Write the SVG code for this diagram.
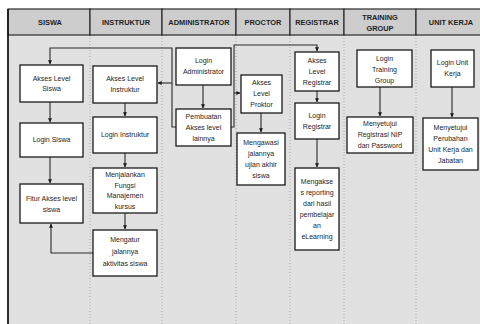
<svg xmlns="http://www.w3.org/2000/svg" width="480" height="324" viewBox="0 0 480 324">
  <style>
    .hdr { fill: #cdcdcd; stroke: #2a2a2a; stroke-width: 1.2; }
    .htxt { font-family: "Liberation Sans", Arial, sans-serif; font-size: 7.4px; font-weight: bold; fill: #1e1e1e; text-anchor: middle; }
    .lane { stroke: #9a9a9a; stroke-width: 0.8; stroke-dasharray: 1 2; fill: none; }
    .box { fill: #ffffff; stroke: #1a1a1a; stroke-width: 1.3; }
    .txt { font-family: "Liberation Sans", Arial, sans-serif; font-size: 7px; fill: #1e1e1e; text-anchor: middle; }
    .conn { fill: none; stroke: #2a2a2a; stroke-width: 1.1; }
  </style>
  <defs>
    <marker id="arrow" viewBox="0 0 6 6" refX="5.5" refY="3" markerWidth="4" markerHeight="4" orient="auto" markerUnits="userSpaceOnUse">
      <path d="M0,0 L6,3 L0,6 Z" fill="#1a1a1a"/>
    </marker>
  </defs>

  <!-- page and swimlane body -->
  <rect x="0" y="0" width="480" height="324" fill="#ffffff"/>
  <rect x="8" y="9" width="474" height="318" fill="#e1e1e1"/>

  <!-- lane separators in the body -->
  <g id="lanes">
    <line class="lane" x1="90" y1="35" x2="90" y2="324"/>
    <line class="lane" x1="162" y1="35" x2="162" y2="324"/>
    <line class="lane" x1="236" y1="35" x2="236" y2="324"/>
    <line class="lane" x1="290" y1="35" x2="290" y2="324"/>
    <line class="lane" x1="344" y1="35" x2="344" y2="324"/>
    <line class="lane" x1="416" y1="35" x2="416" y2="324"/>
  </g>

  <!-- lane headers -->
  <g id="header">
    <rect class="hdr" x="8" y="9" width="82" height="26"/>
    <rect class="hdr" x="90" y="9" width="72" height="26"/>
    <rect class="hdr" x="162" y="9" width="74" height="26"/>
    <rect class="hdr" x="236" y="9" width="54" height="26"/>
    <rect class="hdr" x="290" y="9" width="54" height="26"/>
    <rect class="hdr" x="344" y="9" width="72" height="26"/>
    <rect class="hdr" x="416" y="9" width="70" height="26"/>
    <text class="htxt" x="50" y="25">SISWA</text>
    <text class="htxt" x="126" y="25">INSTRUKTUR</text>
    <text class="htxt" x="199" y="25">ADMINISTRATOR</text>
    <text class="htxt" x="263" y="25">PROCTOR</text>
    <text class="htxt" x="317" y="25">REGISTRAR</text>
    <text class="htxt" x="380" y="19.5">TRAINING</text>
    <text class="htxt" x="380" y="30.5">GROUP</text>
    <text class="htxt" x="451" y="25">UNIT KERJA</text>
  </g>

  <!-- outer left border -->
  <line x1="8" y1="9" x2="8" y2="324" stroke="#1a1a1a" stroke-width="1.8"/>

  <!-- connectors -->
  <g id="connectors">
    <path class="conn" d="M176,127 H172 V48 H50 V64" marker-end="url(#arrow)"/>
    <path class="conn" d="M172,83 H158" marker-end="url(#arrow)"/>
    <path class="conn" d="M231,127 H234 V45 H317 V51" marker-end="url(#arrow)"/>
    <path class="conn" d="M234,93 H240" marker-end="url(#arrow)"/>
    <path class="conn" d="M50,102 V122" marker-end="url(#arrow)"/>
    <path class="conn" d="M50,157 V183" marker-end="url(#arrow)"/>
    <path class="conn" d="M125,103 V116" marker-end="url(#arrow)"/>
    <path class="conn" d="M125,153 V167" marker-end="url(#arrow)"/>
    <path class="conn" d="M125,213 V229" marker-end="url(#arrow)"/>
    <path class="conn" d="M93,253 H51 V224" marker-end="url(#arrow)"/>
    <path class="conn" d="M203,85 V108" marker-end="url(#arrow)"/>
    <path class="conn" d="M261,113 V132" marker-end="url(#arrow)"/>
    <path class="conn" d="M317,91 V102" marker-end="url(#arrow)"/>
    <path class="conn" d="M317,139 V167" marker-end="url(#arrow)"/>
    <path class="conn" d="M380,87 V116" marker-end="url(#arrow)"/>
    <path class="conn" d="M452,87 V117" marker-end="url(#arrow)"/>
  </g>

  <!-- SISWA lane -->
  <g id="akses-level-siswa">
    <rect class="box" x="20" y="65" width="63" height="37"/>
    <text class="txt" x="51.5" y="80.5">Akses Level</text>
    <text class="txt" x="51.5" y="91">Siswa</text>
  </g>
  <g id="login-siswa">
    <rect class="box" x="20" y="123" width="63" height="34"/>
    <text class="txt" x="51.5" y="142.4">Login Siswa</text>
  </g>
  <g id="fitur-akses-siswa">
    <rect class="box" x="20" y="184" width="63" height="39"/>
    <text class="txt" x="51.5" y="200.5">Fitur Akses level</text>
    <text class="txt" x="51.5" y="211.5">siswa</text>
  </g>

  <!-- INSTRUKTUR lane -->
  <g id="akses-level-instruktur">
    <rect class="box" x="93" y="66" width="64" height="37"/>
    <text class="txt" x="125" y="81.4">Akses Level</text>
    <text class="txt" x="125" y="92.4">Instruktur</text>
  </g>
  <g id="login-instruktur">
    <rect class="box" x="93" y="117" width="64" height="36"/>
    <text class="txt" x="125" y="137.4">Login Instruktur</text>
  </g>
  <g id="fungsi-manajemen-kursus">
    <rect class="box" x="93" y="168" width="64" height="45"/>
    <text class="txt" x="125" y="177.2">Menjalankan</text>
    <text class="txt" x="125" y="187.7">Fungsi</text>
    <text class="txt" x="125" y="198.2">Manajemen</text>
    <text class="txt" x="125" y="208.7">kursus</text>
  </g>
  <g id="mengatur-aktivitas">
    <rect class="box" x="93" y="230" width="64" height="46"/>
    <text class="txt" x="125" y="242.4">Mengatur</text>
    <text class="txt" x="125" y="254.4">jalannya</text>
    <text class="txt" x="125" y="266.4">aktivitas siswa</text>
  </g>

  <!-- ADMINISTRATOR lane -->
  <g id="login-administrator">
    <rect class="box" x="176" y="48" width="55" height="37"/>
    <text class="txt" x="203.5" y="63.4">Login</text>
    <text class="txt" x="203.5" y="74.4">Administrator</text>
  </g>
  <g id="pembuatan-akses">
    <rect class="box" x="176" y="109" width="55" height="37"/>
    <text class="txt" x="203.5" y="119">Pembuatan</text>
    <text class="txt" x="203.5" y="130">Akses level</text>
    <text class="txt" x="203.5" y="141">lainnya</text>
  </g>

  <!-- PROCTOR lane -->
  <g id="akses-level-proktor">
    <rect class="box" x="241" y="75" width="41" height="38"/>
    <text class="txt" x="261.5" y="85.4">Akses</text>
    <text class="txt" x="261.5" y="96.4">Level</text>
    <text class="txt" x="261.5" y="107.4">Proktor</text>
  </g>
  <g id="mengawasi-ujian">
    <rect class="box" x="237" y="133" width="48" height="52"/>
    <text class="txt" x="261" y="144.9">Mengawasi</text>
    <text class="txt" x="261" y="155.9">jalannya</text>
    <text class="txt" x="261" y="166.9">ujian akhir</text>
    <text class="txt" x="261" y="177.9">siswa</text>
  </g>

  <!-- REGISTRAR lane -->
  <g id="akses-level-registrar">
    <rect class="box" x="295" y="52" width="44" height="39"/>
    <text class="txt" x="317" y="62.9">Akses</text>
    <text class="txt" x="317" y="73.9">Level</text>
    <text class="txt" x="317" y="84.9">Registrar</text>
  </g>
  <g id="login-registrar">
    <rect class="box" x="295" y="103" width="44" height="36"/>
    <text class="txt" x="317" y="117.9">Login</text>
    <text class="txt" x="317" y="128.9">Registrar</text>
  </g>
  <g id="mengakses-reporting">
    <rect class="box" x="295" y="168" width="44" height="82"/>
    <text class="txt" x="317" y="183.9">Mengakse</text>
    <text class="txt" x="317" y="194.9">s reporting</text>
    <text class="txt" x="317" y="205.9">dari hasil</text>
    <text class="txt" x="317" y="216.9">pembelajar</text>
    <text class="txt" x="317" y="227.9">an</text>
    <text class="txt" x="317" y="238.9">eLearning</text>
  </g>

  <!-- TRAINING GROUP lane -->
  <g id="login-training-group">
    <rect class="box" x="357" y="50" width="55" height="37"/>
    <text class="txt" x="384.5" y="60.9">Login</text>
    <text class="txt" x="384.5" y="71.9">Training</text>
    <text class="txt" x="384.5" y="82.9">Group</text>
  </g>
  <g id="menyetujui-registrasi">
    <rect class="box" x="347" y="117" width="66" height="36"/>
    <text class="txt" x="380" y="126.4">Menyetujui</text>
    <text class="txt" x="380" y="137.4">Registrasi NIP</text>
    <text class="txt" x="380" y="148.4">dan Password</text>
  </g>

  <!-- UNIT KERJA lane -->
  <g id="login-unit-kerja">
    <rect class="box" x="431" y="50" width="43" height="37"/>
    <text class="txt" x="452.5" y="65.4">Login Unit</text>
    <text class="txt" x="452.5" y="76.4">Kerja</text>
  </g>
  <g id="menyetujui-perubahan">
    <rect class="box" x="423" y="118" width="55" height="52"/>
    <text class="txt" x="450.5" y="129.9">Menyetujui</text>
    <text class="txt" x="450.5" y="140.9">Perubahan</text>
    <text class="txt" x="450.5" y="151.9">Unit Kerja dan</text>
    <text class="txt" x="450.5" y="162.9">Jabatan</text>
  </g>
</svg>
